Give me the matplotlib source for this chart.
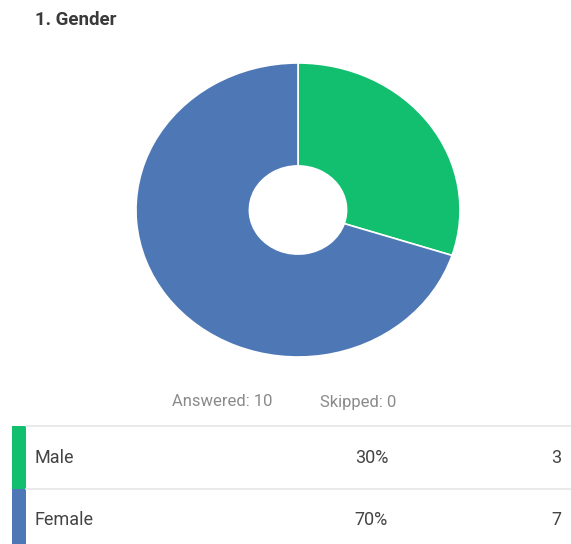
import matplotlib.pyplot as plt
from matplotlib.lines import Line2D
from matplotlib.patches import Rectangle

plt.rcParams["font.family"] = ["Roboto", "DejaVu Sans"]

title = "1. Gender"
labels = ["Male", "Female"]
counts = [3, 7]
colors = ["#12bf6f", "#4e78b5"]
answered = 10
skipped = 0

W, H = 571, 544
fig = plt.figure(figsize=(W / 100, H / 100), dpi=100)
fig.patch.set_facecolor("white")


def fx(px):
    return px / W


def fy(py):
    return 1 - py / H


# donut, slightly wider than tall
cx, cy, rx, ry = 298, 210, 162, 147
ax = fig.add_axes([fx(cx - rx), fy(cy + ry), 2 * rx / W, 2 * ry / H])
ax.pie(counts, colors=colors, startangle=90, counterclock=False,
       wedgeprops=dict(width=0.7, edgecolor="white", linewidth=1.2))
ax.set_aspect("auto")
ax.set_xlim(-1, 1)
ax.set_ylim(-1, 1)
ax.axis("off")

fig.text(fx(35), fy(20), title, fontsize=13.5, fontweight="bold",
         color="#3a3a3a", va="center", ha="left")

fig.text(fx(172), fy(402), f"Answered: {answered}", fontsize=12,
         color="#8a8a8a", va="center", ha="left")
fig.text(fx(320), fy(402), f"Skipped: {skipped}", fontsize=12,
         color="#8a8a8a", va="center", ha="left")

# table rows
total = sum(counts)
row_top = [426, 489]
row_bot = [489, 544]
text_y = [458, 520]
for i, lab in enumerate(labels):
    y0, y1 = row_top[i], row_bot[i]
    fig.add_artist(Rectangle((fx(12), fy(y1)), 14 / W, (y1 - y0) / H,
                             transform=fig.transFigure, color=colors[i], lw=0))
    fig.add_artist(Line2D([fx(26), 1], [fy(y0), fy(y0)],
                          transform=fig.transFigure, color="#e6e6e6", lw=1.2))
    ym = text_y[i]
    fig.text(fx(35), fy(ym), lab, fontsize=13, color="#444444",
             va="center", ha="left")
    fig.text(fx(388), fy(ym), f"{round(100 * counts[i] / total)}%",
             fontsize=13, color="#444444", va="center", ha="right")
    fig.text(fx(561), fy(ym), str(counts[i]), fontsize=13,
             color="#444444", va="center", ha="right")

fig.savefig("out.png", dpi=100, facecolor="white")
